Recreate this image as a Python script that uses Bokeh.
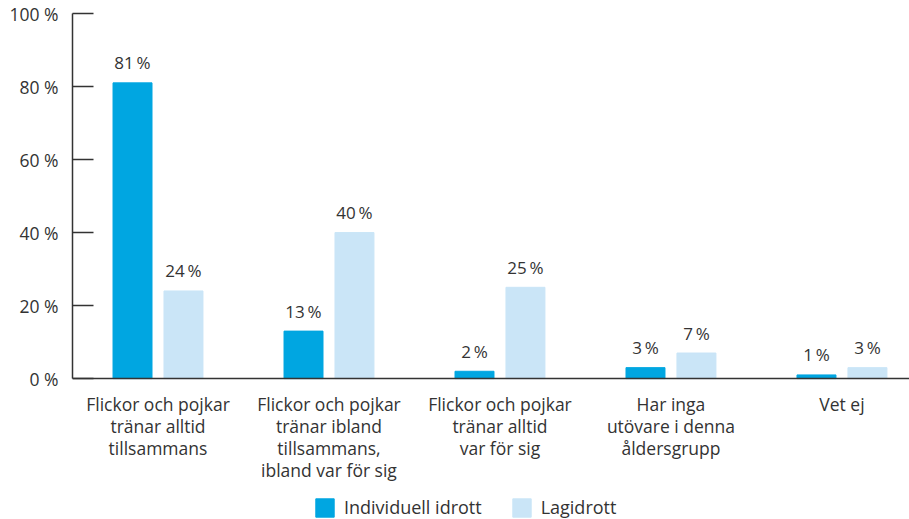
from bokeh.plotting import figure
from bokeh.models import (ColumnDataSource, Range1d, FixedTicker, LinearAxis, Legend,
                          LegendItem, LabelSet, Span)
from bokeh.core.properties import value
from bokeh.embed import file_html
from bokeh.resources import INLINE

categories = [
    "Flickor och pojkar\ntränar alltid\ntillsammans",
    "Flickor och pojkar\ntränar ibland\ntillsammans,\nibland var för sig",
    "Flickor och pojkar\ntränar alltid\nvar för sig",
    "Har inga\nutövare i denna\nåldersgrupp",
    "Vet ej",
]
individuell = [81, 13, 2, 3, 1]
lagidrott = [24, 40, 25, 7, 3]
series_names = ["Individuell idrott", "Lagidrott"]
y_ticks = [0, 20, 40, 60, 80, 100]

FONT = "Open Sans"
TXT = "#333333"
C1 = "#00a6e1"
C2 = "#cae5f7"
off = 0.149
bw = 0.228
LINE_H = 22

centers = [i + 0.5 for i in range(len(categories))]
src1 = ColumnDataSource(dict(x=[c - off for c in centers], top=individuell,
                             lab=[f"{v}\u2009%" for v in individuell]))
src2 = ColumnDataSource(dict(x=[c + off for c in centers], top=lagidrott,
                             lab=[f"{v}\u2009%" for v in lagidrott]))

cx, cy, ctext, coff = [], [], [], []
for c, lab in zip(centers, categories):
    for k, line in enumerate(lab.split("\n")):
        cx.append(c)
        cy.append(0)
        ctext.append(line)
        coff.append(-25 - LINE_H * k)
csrc = ColumnDataSource(dict(x=cx, y=cy, lab=ctext, yoff=coff))

p = figure(width=909, height=519, output_backend="svg", toolbar_location=None,
           x_range=Range1d(0, 4.895), y_range=Range1d(-38.6, 100),
           x_axis_type=None, y_axis_type=None,
           min_border_left=72, min_border_right=0, min_border_top=13, min_border_bottom=0)
p.outline_line_color = None
p.xgrid.visible = False
p.ygrid.visible = False

r1 = p.vbar(x="x", top="top", width=bw, source=src1, color=C1)
r2 = p.vbar(x="x", top="top", width=bw, source=src2, color=C2)

p.add_layout(Span(location=0, dimension="width", line_color=TXT, line_width=1.5))

for s in (src1, src2):
    p.add_layout(LabelSet(x="x", y="top", text="lab", source=s, text_align="center",
                          text_baseline="middle", y_offset=20, text_font=value(FONT),
                          text_font_size="17px", text_color=TXT))

p.add_layout(LabelSet(x="x", y="y", text="lab", source=csrc, text_align="center",
                      text_baseline="middle", y_offset="yoff", text_font=value(FONT),
                      text_font_size="17.5px", text_color=TXT))

ya = LinearAxis(ticker=FixedTicker(ticks=y_ticks), bounds=(0, 100),
                major_label_overrides={t: f"{t} %" for t in y_ticks})
ya.major_tick_in = 21
ya.major_tick_out = 0
ya.minor_tick_line_color = None
ya.axis_line_color = TXT
ya.axis_line_width = 1.5
ya.major_tick_line_color = TXT
ya.major_tick_line_width = 1.5
ya.major_label_standoff = 14
ya.major_label_text_font = FONT
ya.major_label_text_font_size = "17.5px"
ya.major_label_text_color = TXT
p.add_layout(ya, "left")

legend = Legend(items=[LegendItem(label=series_names[0], renderers=[r1]),
                       LegendItem(label=series_names[1], renderers=[r2])],
                orientation="horizontal", location=(241, 0),
                glyph_width=23, glyph_height=23, label_standoff=8, spacing=28,
                label_text_font=FONT, label_text_font_size="18px", label_text_color=TXT,
                border_line_color=None, background_fill_alpha=0, padding=0, margin=0)
p.add_layout(legend, "center")

open("out.html", "w").write(file_html(p, INLINE))
